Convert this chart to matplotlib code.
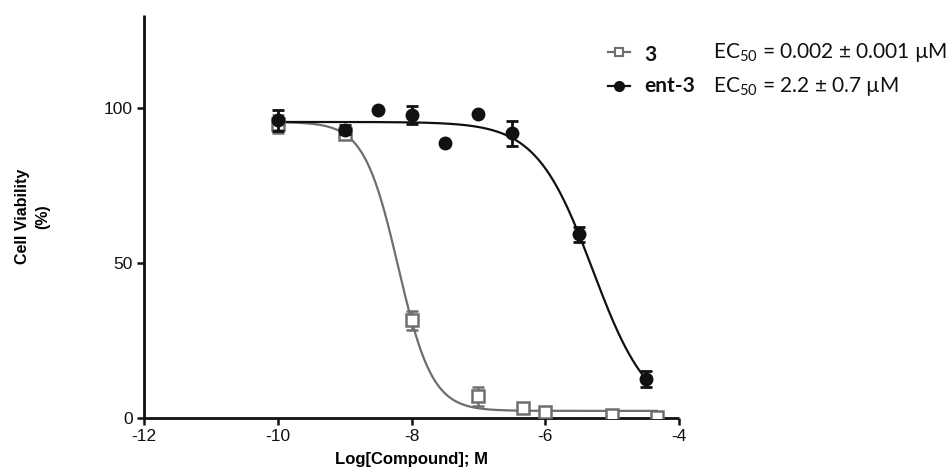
import numpy as np
import matplotlib
matplotlib.use("Agg")
import matplotlib.pyplot as plt
from matplotlib.lines import Line2D

# ---- data ----
x3 = [-10, -9, -8, -7, -6.33, -6, -5, -4.33]
y3 = [94.8, 91.6, 31.5, 7.0, 3.3, 1.8, 1.0, 0.3]
e3 = [3.0, 1.5, 3.0, 3.0, 0.0, 0.0, 0.0, 0.0]

xent = [-10, -9, -8.5, -8, -7.5, -7, -6.5, -5.5, -4.5]
yent = [96.0, 93.0, 99.4, 97.7, 88.7, 98.0, 91.8, 59.2, 12.6]
eent = [3.5, 1.5, 0.0, 3.0, 0.0, 0.0, 4.0, 2.5, 2.5]

# 4-parameter logistic fit parameters (top, bottom, logEC50, hill)
fit3 = (95.5, 2.3, -8.2, 1.7)
fitent = (95.5, 0.0, -5.29, 1.03)
range3 = (-10, -4.33)
rangeent = (-10, -4.5)

xticks = [-12, -10, -8, -6, -4]
yticks = [0, 50, 100]
labels = ["3", "ent-3"]
ec50_texts = [r"EC$_{50}$ = 0.002 ± 0.001 µM", r"EC$_{50}$ = 2.2 ± 0.7 µM"]

GRAY = "#6e6e6e"
BLACK = "#111111"

plt.rcParams['font.family'] = ['Liberation Sans', 'DejaVu Sans']
plt.rcParams['mathtext.fontset'] = 'custom'
plt.rcParams['mathtext.rm'] = 'Lato'

def logistic(x, p):
    top, bottom, c, h = p
    return bottom + (top - bottom) / (1 + 10 ** ((x - c) * h))

W, H = 952, 468
fig = plt.figure(figsize=(W/100, H/100), dpi=100)
ax = fig.add_axes([144/W, 1 - 418/H, (679-144)/W, (418-15)/H])

xx3 = np.linspace(range3[0], range3[1], 400)
xxe = np.linspace(rangeent[0], rangeent[1], 400)
ax.plot(xx3, logistic(xx3, fit3), color=GRAY, lw=1.6, zorder=2)
ax.plot(xxe, logistic(xxe, fitent), color=BLACK, lw=1.6, zorder=2)

ax.errorbar(x3, y3, yerr=e3, fmt='s', ms=8, mfc='white', mec=GRAY, mew=1.8,
            ecolor=GRAY, elinewidth=1.8, capsize=4, capthick=1.8, zorder=3)
ax.errorbar(xent, yent, yerr=eent, fmt='o', ms=9, mfc=BLACK, mec=BLACK,
            ecolor=BLACK, elinewidth=2, capsize=4, capthick=2, zorder=4)

ax.set_xlim(-12, -4)
ax.set_ylim(0, 130)
ax.set_xticks(xticks)
ax.set_yticks(yticks)
ax.set_xticklabels([str(t) for t in xticks])
for s in ['top', 'right']:
    ax.spines[s].set_visible(False)
for s in ['left', 'bottom']:
    ax.spines[s].set_linewidth(2.0)
    ax.spines[s].set_color('#111111')
    ax.spines[s].set_capstyle('butt')
ax.tick_params(axis='both', direction='out', length=5, width=1.8, labelsize=12.5,
               colors='#111111', pad=3)

ax.set_xlabel("Log[Compound]; M", fontsize=12, fontweight='bold')
ax.xaxis.set_label_coords(0.5, -0.085)
ax.set_ylabel("Cell Viability\n(%)", fontsize=11.5, fontweight='bold', linespacing=1.4)
ax.yaxis.set_label_coords(-0.176, 0.5)

# legend drawn manually in figure pixel coordinates
row_y = [52, 86]
line_colors = [GRAY, BLACK]
marker_styles = [
    dict(marker='s', ms=6, mfc='white', mec=GRAY, mew=1.5),
    dict(marker='o', ms=7, mfc=BLACK, mec=BLACK),
]
for i in range(2):
    yf = 1 - row_y[i]/H
    fig.add_artist(Line2D([608/W, 630/W], [yf, yf], transform=fig.transFigure,
                          color=line_colors[i], lw=1.6))
    fig.add_artist(Line2D([619/W], [yf], transform=fig.transFigure, linestyle='none',
                          **marker_styles[i]))
    fig.text(644/W, yf - (3/H if i == 0 else 0), labels[i], fontsize=15, family='Lato',
             fontweight='bold', va='center', ha='left', color='#111111')
    fig.text(713/W, yf, ec50_texts[i], fontsize=15, family='Lato',
             va='center', ha='left', color='#111111')

fig.savefig("out.png", dpi=100)
